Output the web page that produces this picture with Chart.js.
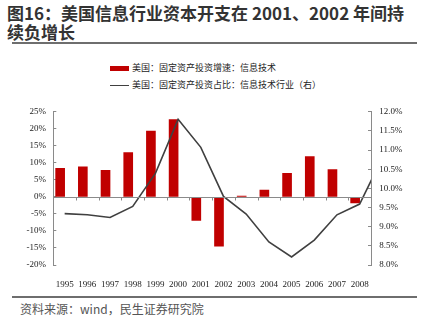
<!DOCTYPE html>
<html>
<head>
<meta charset="utf-8">
<script src="https://cdn.jsdelivr.net/npm/chart.js@4.4.0/dist/chart.umd.min.js"></script>
<style>
  body { margin: 0; width: 430px; height: 325px; background: #fff; position: relative; overflow: hidden; font-family: "Noto Sans CJK SC", sans-serif; }
  #title { position: absolute; left: 7px; top: 3px; font-size: 17px; font-weight: bold; color: #333; line-height: 19px; white-space: nowrap; }
  .rule { position: absolute; left: 12px; width: 405px; height: 2px; background: #6e6e6e; }
  #legend { position: absolute; left: 0; top: 0; }
  .lg-item { position: absolute; left: 110px; height: 14px; font-size: 9px; color: #222; white-space: nowrap; }
  .lg-mark { position: absolute; left: 0; width: 19px; }
  .lg-text { position: absolute; left: 22px; top: 0; line-height: 14px; }
  #source { position: absolute; left: 20px; top: 300px; font-size: 12px; color: #555; }
  #wrap { position: absolute; left: 0; top: 95px; width: 430px; height: 193px; }
</style>
</head>
<body>
<div id="title">图16：美国信息行业资本开支在 2001、2002 年间持<br>续负增长</div>
<div class="rule" style="top:42px"></div>
<div id="legend"></div>
<div id="wrap"><canvas id="myChart"></canvas></div>
<div class="rule" style="top:296px"></div>
<div id="source">资料来源：wind，民生证券研究院</div>
<script>
// du lieu
const years = ['1995', '1996', '1997', '1998', '1999', '2000', '2001', '2002', '2003', '2004', '2005', '2006', '2007', '2008']
const growth = [8.4, 8.8, 7.8, 13.0, 19.3, 22.7, -6.9, -14.5, 0.2, 2.0, 6.9, 11.8, 8.0, -1.8]
// diem cuoi (2009) bi cat o mep phai cua bieu do
const share = [9.34, 9.31, 9.24, 9.53, 10.39, 11.80, 11.07, 9.79, 9.33, 8.60, 8.21, 8.65, 9.31, 9.59, 10.8]
const labels = ['美国：固定资产投资增速：信息技术', '美国：固定资产投资占比：信息技术行业（右）']
const leftTicks = { min: -20, max: 25, step: 5 }
const rightTicks = { min: 8, max: 12, step: 0.5 }

const red = '#c00000'
const lineColor = '#404040'
const axisColor = '#8a8a8a'
const tickFont = { family: '"Liberation Serif", "Times New Roman", serif', size: 9 }

const showLegend = () => {
    let str = ''
    const tops = [61, 78]
    for (let i = 0; i < labels.length; i++) {
        let mark = i === 0
            ? `<div class="lg-mark" style="top:4.5px;height:5px;background:${red}"></div>`
            : `<div class="lg-mark" style="top:6.5px;height:1.5px;background:${lineColor}"></div>`
        str += `<div class="lg-item" style="top:${tops[i]}px">${mark}<div class="lg-text">${labels[i]}</div></div>`
    }
    document.getElementById('legend').innerHTML = str
}

// truc 0 va vach nho
const zeroTicks = {
    id: 'zeroTicks',
    afterDatasetsDraw(chart) {
        const x = chart.scales.x
        const y = chart.scales.y
        const y0 = Math.round(y.getPixelForValue(0)) + 0.5
        const ctx = chart.ctx
        ctx.save()
        ctx.strokeStyle = axisColor
        ctx.lineWidth = 1
        ctx.beginPath()
        ctx.moveTo(chart.chartArea.left, y0)
        ctx.lineTo(chart.chartArea.right, y0)
        for (let i = 1; i < years.length; i++) {
            const px = Math.round((x.getPixelForValue(i - 1) + x.getPixelForValue(i)) / 2) + 0.5
            ctx.moveTo(px, y0)
            ctx.lineTo(px, y0 + 3)
        }
        ctx.stroke()
        ctx.restore()
    }
}

const showChart = () => {
    const linePoints = share.map((v, i) => ({ x: i, y: v }))
    const ctx = document.getElementById('myChart').getContext('2d')
    new Chart(ctx, {
        data: {
            labels: years,
            datasets: [{
                type: 'bar',
                label: labels[0],
                data: growth,
                backgroundColor: red,
                barThickness: 9,
                xAxisID: 'x',
                yAxisID: 'y',
                order: 2
            }, {
                type: 'line',
                label: labels[1],
                data: linePoints,
                borderColor: lineColor,
                borderWidth: 1.6,
                pointRadius: 0,
                tension: 0,
                xAxisID: 'x2',
                yAxisID: 'y1',
                order: 1
            }]
        },
        options: {
            responsive: true,
            maintainAspectRatio: false,
            animation: false,
            layout: { padding: { top: 9.5, left: 0, right: 0, bottom: 0 } },
            plugins: { legend: { display: false }, tooltip: { enabled: false } },
            scales: {
                x: {
                    type: 'category',
                    offset: true,
                    grid: { display: false },
                    border: { display: false },
                    ticks: { font: tickFont, color: '#222', padding: 6.5, maxRotation: 0, autoSkip: false },
                    afterFit: (s) => { s.height = 23 }
                },
                x2: {
                    type: 'linear',
                    display: false,
                    min: -0.5,
                    max: years.length - 0.5
                },
                y: {
                    position: 'left',
                    min: leftTicks.min,
                    max: leftTicks.max,
                    grid: { drawOnChartArea: false, tickLength: -3, color: axisColor },
                    border: { color: axisColor },
                    ticks: { stepSize: leftTicks.step, font: tickFont, color: '#222', padding: 10.3, callback: (v) => v + '%' },
                    afterFit: (s) => { s.width = 53.3 }
                },
                y1: {
                    position: 'right',
                    min: rightTicks.min,
                    max: rightTicks.max,
                    grid: { drawOnChartArea: false, tickLength: -3, color: axisColor },
                    border: { color: axisColor },
                    ticks: { stepSize: rightTicks.step, font: tickFont, color: '#222', padding: 11.3, callback: (v) => v.toFixed(1) + '%' },
                    afterFit: (s) => { s.width = 59 }
                }
            }
        },
        plugins: [zeroTicks]
    })
}

window.onload = function () {
    showLegend()
    showChart()
}
</script>
</body>
</html>
